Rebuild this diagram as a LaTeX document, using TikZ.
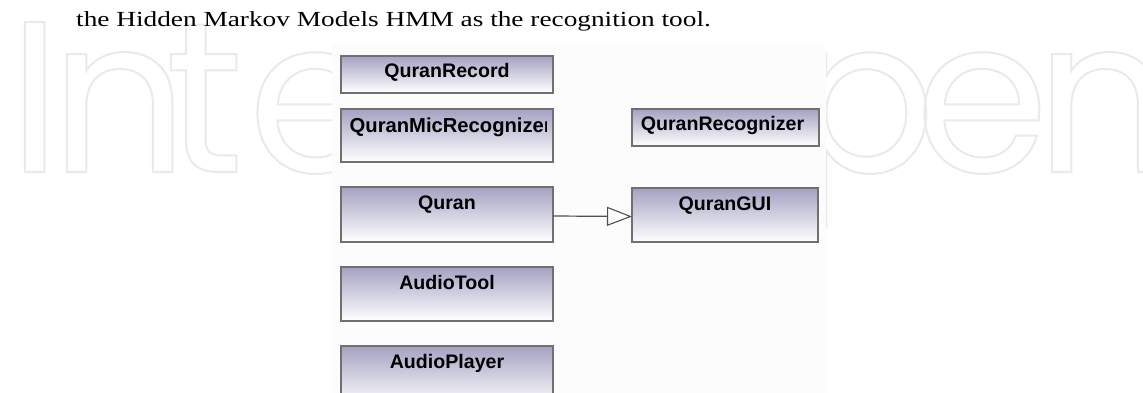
\documentclass[tikz,border=0pt]{standalone}
\usepackage{fontspec}
\usetikzlibrary{arrows.meta,calc}
\newfontfamily\umlfont{Liberation Sans}
\newfontfamily\wmfont{Poppins}
\newfontfamily\capfont{Liberation Serif}[FakeStretch=1.27]
\newcommand\outlinetext[1]{\special{pdf:literal direct 1 Tr 2 w 0.918 G}#1\special{pdf:literal direct 0 Tr}}
\definecolor{boxtop}{RGB}{164,162,194}
\definecolor{boxline}{RGB}{112,112,112}
\definecolor{arrowcol}{RGB}{80,80,80}
\definecolor{wm}{RGB}{234,234,234}
\definecolor{panel}{RGB}{252,252,252}
\begin{document}
\begin{tikzpicture}[x=1pt,y=-1pt,
  umlbox/.style={draw=boxline, line width=1.3pt, top color=boxtop, bottom color=white,
    anchor=north west, inner sep=0pt, outer sep=0pt, minimum width=212pt},
  umltitle/.style={font=\umlfont\bfseries\fontsize{19.6}{20}\selectfont, anchor=base, inner sep=0pt},
  wmletter/.style={font=\wmfont\fontsize{215}{215}\selectfont, text=wm, anchor=base west, inner sep=0pt}]
\useasboundingbox (0,0) rectangle (1143,393);
\clip (0,0) rectangle (1143,393);
\fill[white] (0,0) rectangle (1143,393);
% watermark
\node[wmletter] (w1) at (8,172) {\outlinetext{I}};
\node[wmletter] (w2) at (50,172) {\outlinetext{n}};
\node[wmletter] (w3) at (165,172) {\outlinetext{t}};
\node[wmletter] (w4) at (248,172) {\outlinetext{e}};
\node[wmletter] (w5) at (790,172) {\outlinetext{p}};
\node[wmletter] (w6) at (915,172) {\outlinetext{e}};
\node[wmletter] (w7) at (1035,172) {\outlinetext{n}};
% panel
\fill[panel] (332,45) rectangle (826,393);
% caption line
\node[anchor=base west, inner sep=0pt, font=\capfont\fontsize{21.5}{24}\selectfont] (caption) at (76,27)
  {the Hidden Markov Models HMM as the recognition tool.};
% boxes
\node[umlbox, minimum height=37pt] (rec) at (341,56) {};
\node[umltitle] (recT) at ($(rec.north)+(0,22)$) {QuranRecord};
\node[umlbox, minimum height=53pt] (mic) at (341,109) {};
\begin{scope}
\clip ($(mic.north west)+(1,1)$) rectangle ($(mic.south east)+(-7,-1)$);
\node[umltitle, anchor=base west, font=\umlfont\bfseries\fontsize{20.2}{21}\selectfont] (micT)
  at ($(mic.north west)+(8.5,23)$) {QuranMicRecognizer};
\end{scope}
\node[umlbox, minimum height=55pt] (quran) at (341,187) {};
\node[umltitle] (quranT) at ($(quran.north)+(0,22)$) {Quran};
\node[umlbox, minimum height=54pt] (tool) at (341,267) {};
\node[umltitle] (toolT) at ($(tool.north)+(0,22)$) {AudioTool};
\node[umlbox, minimum height=60pt] (player) at (341,346) {};
\node[umltitle] (playerT) at ($(player.north)+(0,22)$) {AudioPlayer};
\node[umlbox, minimum width=187pt, minimum height=37pt] (recog) at (632,109) {};
\node[umltitle] (recogT) at ($(recog.north)+(-3,22)$) {QuranRecognizer};
\node[umlbox, minimum width=186pt, minimum height=54pt] (gui) at (632,188) {};
\node[umltitle] (guiT) at ($(gui.north)+(0,22)$) {QuranGUI};
% generalization arrow
\draw[line width=1.2pt, draw=arrowcol, -{Triangle[open, length=25pt, width=19pt, line width=1.1pt]}]
  ([yshift=-1.5pt]quran.east) -- ([yshift=-1.5pt]gui.west);
\end{tikzpicture}
\end{document}
